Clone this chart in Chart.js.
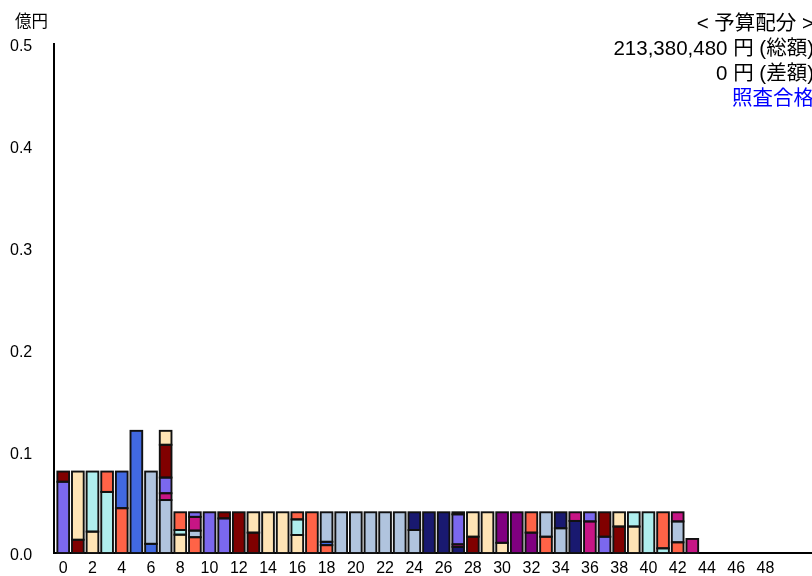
<!DOCTYPE html>
<html>
<head>
<meta charset="utf-8">
<script src="https://cdn.jsdelivr.net/npm/chart.js@4/dist/chart.umd.min.js"></script>
<style>
  html, body { margin: 0; padding: 0; background: #fff; overflow: hidden; }
  canvas { display: block; }
</style>
</head>
<body>
<canvas id="budget_chart" width="830" height="576"></canvas>
<script>
const categories = [
  0, 1, 2, 3, 4, 5, 6, 7, 8, 9, 10, 11, 12, 13, 14, 15, 16, 17, 18, 19,
  20, 21, 22, 23, 24, 25, 26, 27, 28, 29, 30, 31, 32, 33, 34, 35, 36, 37, 38, 39,
  40, 41, 42, 43,
];
const tickLabels = [0, 2, 4, 6, 8, 10, 12, 14, 16, 18, 20, 22, 24, 26, 28, 30, 32, 34, 36, 38, 40, 42, 44, 46, 48];
const yTicks = [0.0, 0.1, 0.2, 0.3, 0.4, 0.5];

// stacked pieces of each bar, bottom to top (億円)
const segments = [
  [0.070, 0.010],
  [0.013, 0.067],
  [0.021, 0.059],
  [0.060, 0.020],
  [0.044, 0.036],
  [0.120],
  [0.009, 0.071],
  [0.052, 0.0067, 0.0154, 0.0322, 0.0137],
  [0.018, 0.0046, 0.0174],
  [0.0155, 0.0065, 0.0135, 0.0045],
  [0.040],
  [0.034, 0.006],
  [0.040],
  [0.020, 0.020],
  [0.040],
  [0.040],
  [0.0177, 0.0153, 0.007],
  [0.040],
  [0.0077, 0.0033, 0.029],
  [0.040],
  [0.040],
  [0.040],
  [0.040],
  [0.040],
  [0.0226, 0.0174],
  [0.040],
  [0.040],
  [0.006, 0.0025, 0.0295, 0.002],
  [0.016, 0.024],
  [0.040],
  [0.010, 0.030],
  [0.040],
  [0.020, 0.020],
  [0.016, 0.024],
  [0.0243, 0.0157],
  [0.0315, 0.0085],
  [0.031, 0.009],
  [0.016, 0.024],
  [0.026, 0.014],
  [0.026, 0.014],
  [0.040],
  [0.0046, 0.0354],
  [0.0105, 0.0205, 0.009],
  [0.0138],
];

const segmentColors = [
  ["msb", "dr"],
  ["dr", "moc"],
  ["moc", "pt"],
  ["pt", "tom"],
  ["tom", "rb"],
  ["rb"],
  ["rb", "lsb"],
  ["lsb", "mvr", "msb", "dr", "moc"],
  ["moc", "pt", "tom"],
  ["tom", "lsb", "mvr", "msb"],
  ["msb"],
  ["msb", "dr"],
  ["dr"],
  ["dr", "moc"],
  ["moc"],
  ["moc"],
  ["moc", "pt", "tom"],
  ["tom"],
  ["tom", "rb", "lsb"],
  ["lsb"],
  ["lsb"],
  ["lsb"],
  ["lsb"],
  ["lsb"],
  ["lsb", "mnb"],
  ["mnb"],
  ["mnb"],
  ["mnb", "mvr", "msb", "dr"],
  ["dr", "moc"],
  ["moc"],
  ["moc", "pur"],
  ["pur"],
  ["pur", "tom"],
  ["tom", "lsb"],
  ["lsb", "mnb"],
  ["mnb", "mvr"],
  ["mvr", "msb"],
  ["msb", "dr"],
  ["dr", "moc"],
  ["moc", "pt"],
  ["pt"],
  ["pt", "tom"],
  ["tom", "lsb", "mvr"],
  ["mvr"],
];

const palette = {
  msb: "#7B68EE",
  dr: "#800000",
  moc: "#FFE4B5",
  pt: "#AFEEEE",
  tom: "#FF6347",
  rb: "#4169E1",
  lsb: "#B0C4DE",
  mvr: "#C71585",
  pur: "#800080",
  mnb: "#191970",
};

const unitLabel = "億円";
const budgetTotal = 213380480;
const budgetDiff = 0;
const checkResult = "照査合格";

const FONT = "'Liberation Sans', 'Noto Sans CJK JP', sans-serif";

// one dataset per stack level
const maxLayers = Math.max(...segments.map((s) => s.length));
const datasets = [];
for (let layer = 0; layer < maxLayers; layer++) {
  datasets.push({
    data: categories.map((c, i) => ({
      x: c,
      y: segments[i][layer] !== undefined ? segments[i][layer] : null,
    })),
    backgroundColor: categories.map((c, i) => {
      const col = segmentColors[i][layer];
      return col ? palette[col] : "rgba(0,0,0,0)";
    }),
    borderWidth: 0,
    inflateAmount: 0,
    barPercentage: 0.8,
    categoryPercentage: 1.0,
  });
}

// black outline round every stacked piece, taken from the bar elements
const barOutline = {
  id: "barOutline",
  afterDatasetsDraw(chart) {
    const ctx = chart.ctx;
    ctx.save();
    ctx.strokeStyle = "#111";
    ctx.lineWidth = 1.9;
    chart.data.datasets.forEach((ds, di) => {
      const meta = chart.getDatasetMeta(di);
      meta.data.forEach((bar, i) => {
        if (ds.data[i].y === null) return;
        const p = bar.getProps(["x", "y", "base", "width"], true);
        const top = Math.min(p.y, p.base);
        const h = Math.abs(p.base - p.y);
        ctx.strokeRect(p.x - p.width / 2, top, p.width, h);
      });
    });
    ctx.restore();
  },
};

const annotations = {
  id: "annotations",
  afterDraw(chart) {
    const ctx = chart.ctx;
    ctx.save();
    ctx.textBaseline = "middle";
    ctx.fillStyle = "#000";
    ctx.font = "16.5px " + FONT;
    ctx.textAlign = "left";
    ctx.fillText(unitLabel, 15, 22);

    const lines = [
      "< 予算配分 >",
      budgetTotal.toLocaleString("en-US") + " 円 (総額)",
      budgetDiff.toLocaleString("en-US") + " 円 (差額)",
      checkResult,
    ];
    ctx.font = "20.5px " + FONT;
    ctx.textAlign = "right";
    lines.forEach((line, i) => {
      ctx.fillStyle = i === 3 ? "#0000FF" : "#000";
      ctx.fillText(line, 814, 24 + 25 * i);
    });
    ctx.restore();
  },
};

const ctx = document.getElementById("budget_chart");
new Chart(ctx, {
  type: "bar",
  data: {
    datasets: datasets,
  },
  options: {
    responsive: false,
    animation: false,
    layout: {
      padding: { left: 10, top: 44, right: 11, bottom: 0 },
    },
    plugins: {
      legend: { display: false },
      tooltip: { enabled: false },
    },
    scales: {
      x: {
        type: "linear",
        stacked: true,
        offset: false,
        min: -0.63,
        max: 51.66,
        afterBuildTicks: function (axis) {
          axis.ticks = tickLabels.map((v) => ({ value: v }));
        },
        grid: { display: false, drawTicks: false },
        border: { display: true, color: "#000", width: 2 },
        ticks: {
          autoSkip: false,
          maxRotation: 0,
          padding: 6,
          color: "#000",
          font: { family: FONT, size: 16 },
          callback: function (value) {
            return String(value);
          },
        },
        afterFit: function (axis) {
          axis.height = 23;
        },
      },
      y: {
        stacked: true,
        min: 0,
        max: 0.5,
        afterBuildTicks: function (axis) {
          axis.ticks = yTicks.map((v) => ({ value: v }));
        },
        grid: { display: false, drawTicks: false },
        border: { display: true, color: "#000", width: 2 },
        ticks: {
          crossAlign: "far",
          labelOffset: 3,
          color: "#000",
          font: { family: FONT, size: 16 },
          callback: function (value) {
            return Number(value).toFixed(1);
          },
        },
        afterFit: function (axis) {
          axis.width = 44;
        },
      },
    },
  },
  plugins: [barOutline, annotations],
});
</script>
</body>
</html>
